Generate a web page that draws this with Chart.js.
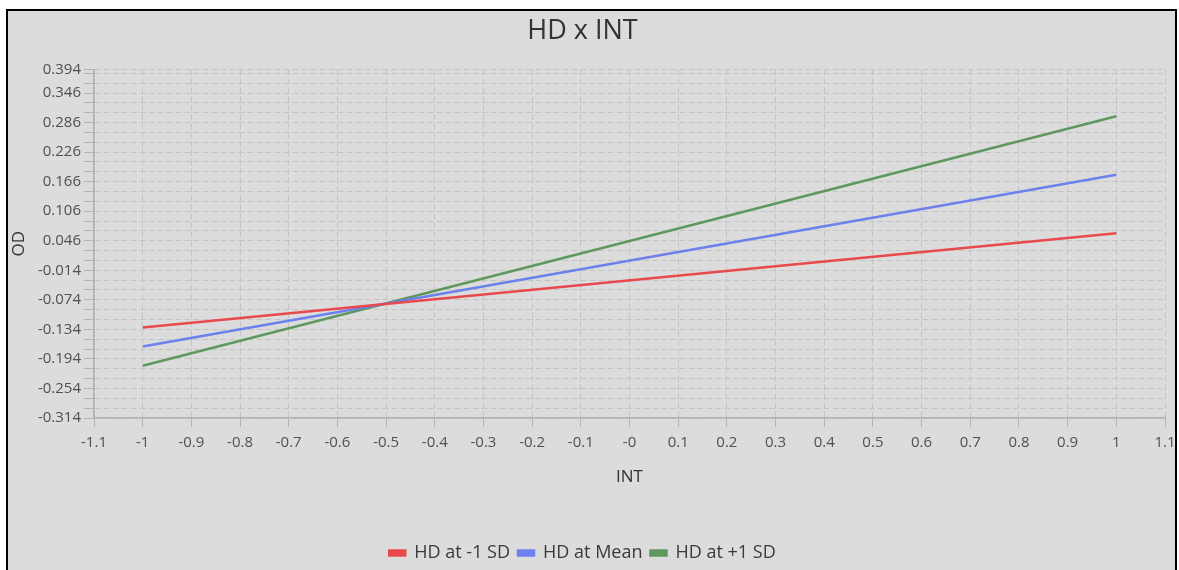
<!DOCTYPE html>
<html>
<head>
<meta charset="utf-8">
<script src="https://cdn.jsdelivr.net/npm/chart.js@4"></script>
<style>
  html, body { margin: 0; padding: 0; background: #ffffff; width: 1179px; height: 570px; overflow: hidden; }
  #frame { position: absolute; left: 6px; top: 9px; width: 1171px; height: 600px; box-sizing: border-box;
           border: 2px solid #000; background: #dcdcdc; }
  #c { position: absolute; left: 0; top: 0; }
</style>
</head>
<body>
<div id="frame"></div>
<canvas id="c" width="1179" height="570"></canvas>
<script>
// ---- data ----
const xValues = [-1, 1];
const hdLow  = [-0.130, 0.061];   // HD at -1 SD
const hdMean = [-0.169, 0.180];   // HD at Mean
const hdHigh = [-0.208, 0.299];   // HD at +1 SD

const seriesNames = ["HD at -1 SD", "HD at Mean", "HD at +1 SD"];

const xTickValues = [-1.1, -1, -0.9, -0.8, -0.7, -0.6, -0.5, -0.4, -0.3, -0.2, -0.1, 0, 0.1, 0.2, 0.3, 0.4, 0.5, 0.6, 0.7, 0.8, 0.9, 1, 1.1];
const xTickLabels = ["-1.1", "-1", "-0.9", "-0.8", "-0.7", "-0.6", "-0.5", "-0.4", "-0.3", "-0.2", "-0.1", "-0", "0.1", "0.2", "0.3", "0.4", "0.5", "0.6", "0.7", "0.8", "0.9", "1", "1.1"];

const yTickLabels = ["0.394", "0.346", "0.286", "0.226", "0.166", "0.106", "0.046", "-0.014", "-0.074", "-0.134", "-0.194", "-0.254", "-0.314"];
const yMin = -0.314, yMax = 0.394, yMinorStep = 0.02;

// ---- build ----
const colors = ["#e8494d", "#6c80ee", "#5f985f"];
const toPts = arr => xValues.map((x, i) => ({ x: x, y: arr[i] }));

// grid positions (every 0.02 from the minimum, plus the maximum)
const yGrid = [];
for (let i = 0; yMin + i * yMinorStep < yMax - 1e-9; i++) yGrid.push(+(yMin + i * yMinorStep).toFixed(3));
yGrid.push(yMax);
const yLabelMap = {};
yTickLabels.forEach(l => { yLabelMap[(+l).toFixed(3)] = l; });

const FONT = "'Open Sans', 'Noto Sans', sans-serif";
const gridColor = "#c4c4c4";

new Chart(document.getElementById('c'), {
  type: 'line',
  data: {
    datasets: [hdLow, hdMean, hdHigh].map((arr, i) => ({
      label: seriesNames[i],
      data: toPts(arr),
      borderColor: colors[i],
      backgroundColor: colors[i],
      borderWidth: 2.5,
      pointRadius: 0,
      fill: false,
      tension: 0
    }))
  },
  options: {
    responsive: false,
    animation: false,
    devicePixelRatio: 1,
    layout: { padding: { left: 0, right: 14, top: 0, bottom: -2 } },
    plugins: {
      tooltip: { enabled: false },
      title: {
        display: true,
        text: 'HD x INT',
        color: '#333333',
        font: { family: FONT, size: 27, weight: 'normal' },
        padding: { top: 15, bottom: 22 }
      },
      legend: {
        position: 'bottom',
        labels: {
          color: '#3a3a3a',
          font: { family: FONT, size: 18 },
          boxWidth: 16,
          boxHeight: 5,
          padding: 8
        }
      }
    },
    scales: {
      x: {
        type: 'linear',
        min: -1.1, max: 1.1,
        afterBuildTicks: s => { s.ticks = xTickValues.map(v => ({ value: v })); },
        afterFit: s => { s.height = 118; s.paddingRight = 0; s.paddingLeft = 0; },
        ticks: {
          autoSkip: false, maxRotation: 0, color: '#505050', padding: 7,
          font: { family: FONT, size: 15 },
          callback: (v, i) => xTickLabels[i]
        },
        grid: { color: gridColor, tickLength: 9, tickColor: '#b4b4b4', tickBorderDash: [] },
        border: { display: true, color: '#b0b0b0', width: 1.5, dash: [6, 3] },
        title: { display: true, text: 'INT', color: '#333333', font: { family: FONT, size: 17 }, padding: { top: 0, bottom: 49 } }
      },
      y: {
        type: 'linear',
        min: yMin, max: yMax,
        afterBuildTicks: s => { s.ticks = yGrid.map(v => ({ value: v })); },
        afterFit: s => { s.width = 94; },
        ticks: {
          autoSkip: false, color: '#505050', padding: 3,
          font: { family: FONT, size: 15 },
          callback: v => yLabelMap[(+v).toFixed(3)] || ''
        },
        grid: { color: gridColor, tickLength: 10, tickColor: '#b4b4b4', tickBorderDash: [] },
        border: { display: true, color: '#b0b0b0', width: 1.5, dash: [6, 3] },
        title: { display: true, text: 'OD', color: '#333333', font: { family: FONT, size: 17 }, padding: { top: 9, bottom: 0 } }
      }
    }
  }
});
</script>
</body>
</html>
